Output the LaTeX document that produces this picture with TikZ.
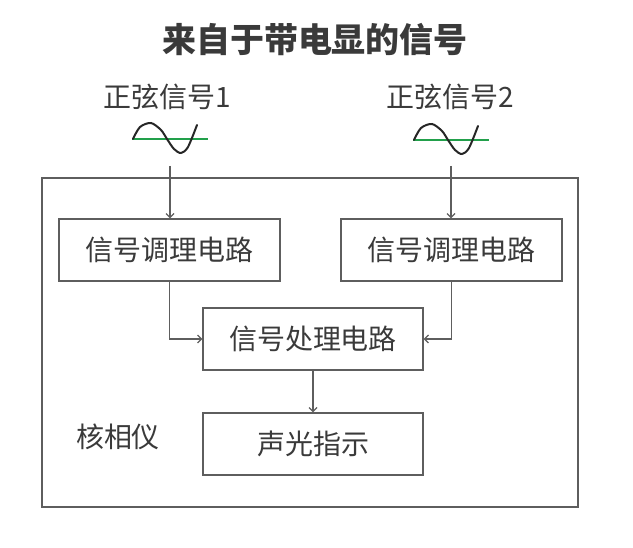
\documentclass[tikz,border=0pt]{standalone}
\usepackage{fontspec}
\setmainfont{Noto Sans CJK SC}
\usepackage{tikz}
\usetikzlibrary{positioning, arrows.meta}
\definecolor{txtgray}{HTML}{3A3A3A}
\definecolor{linegray}{HTML}{5E5E5E}
\definecolor{sinegreen}{HTML}{22A04B}
\tikzset{
    x=1pt, y=-1pt, % pixel-like coordinates, y grows downward
    every node/.style={text=txtgray, font=\fontsize{28}{30}\selectfont},
    block/.style={draw=linegray, line width=1.3pt, minimum width=221pt, minimum height=62pt, inner sep=0pt}, % the boxes
    link/.style={draw=linegray, line width=1.2pt, -{Straight Barb[length=4pt,width=8pt]}}, % connectors
    sinewave/.pic={
        \draw[sinegreen, line width=2pt] (-38,0) -- (38,0);
        \draw[black!85, line width=2pt, line cap=round] plot[smooth] coordinates
            {(-37,0) (-30,-12) (-19,-16) (-9,-9) (-3,0) (4,10) (11,14) (18,8) (27,-14)};
    },
}

\begin{document}
\begin{tikzpicture}
    \useasboundingbox (0,0) rectangle (633,548);
    \node[font=\fontsize{34}{36}\selectfont\bfseries] (title) at (315,40) {来自于带电显的信号};
    \node (sig1) at (167,97) {正弦信号1};
    \node (sig2) at (450,97) {正弦信号2};
    \pic at (170,139) {sinewave};
    \pic at (451,140) {sinewave};
    \coordinate (in1) at (170,166);
    \coordinate (in2) at (451,166);
    % outer frame
    \draw[linegray, line width=1.3pt] (42,178) rectangle (578,507);
    \node[block] (cond1) at (169.5,250) {信号调理电路};
    \node[block] (cond2) at (451.5,250) {信号调理电路};
    \node[block, minimum width=220pt] (proc) at (313,339) {信号处理电路};
    \node[block, minimum width=220pt] (alarm) at (313,444) {声光指示};
    \node (meter) at (118,437) {核相仪};
    \draw[link] (in1) -- (in1 |- cond1.north);
    \draw[link] (in2) -- (in2 |- cond2.north);
    \draw[link] (cond1.south) |- (proc.west);
    \draw[link] (cond2.south) |- (proc.east);
    \draw[link] (proc.south) -- (alarm.north);
\end{tikzpicture}
\end{document}
